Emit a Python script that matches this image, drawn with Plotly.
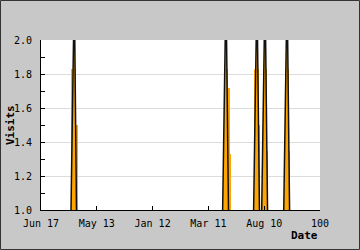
import plotly.graph_objects as go

# x positions are in "date index" units (0..100), ticks labelled as in the reference
tick_vals = [0, 20, 40, 60, 80, 100]
tick_text = ["Jun 17", "May 13", "Jan 12", "Mar 11", "Aug 10", "100"]

# spike outline (black line, orange filled)
line_x = [10.75, 11.93, 12.72, None,
          65.1, 66.3, 67.2, None,
          76.2, 77.4, 78.3, None,
          79.1, 80.3, 81.2, None,
          87.0, 88.2, 89.1]
line_y = [1.0, 2.3, 1.0, None,
          1.0, 2.3, 1.0, None,
          1.0, 2.3, 1.0, None,
          1.0, 2.3, 1.0, None,
          1.0, 2.3, 1.0]

# orange visit bars next to the spikes
bar_x = [11.7, 12.81, 66.3, 67.38, 67.92, 77.3, 78.14, 80.2, 80.64, 81.2, 88.1, 88.4, 88.9]
bar_y = [1.83, 1.5, 1.83, 1.72, 1.33, 1.83, 1.5, 1.83, 1.67, 1.35, 1.83, 1.67, 1.35]
bar_w = [1.6, 0.55, 1.6, 0.5, 0.4, 1.6, 0.45, 1.6, 0.55, 0.4, 1.6, 0.5, 0.4]

fig = go.Figure()
fig.add_trace(go.Bar(x=bar_x, y=bar_y, width=bar_w,
                     marker=dict(color="#ffa500", line=dict(width=0)),
                     hoverinfo="skip"))
fig.add_trace(go.Scatter(x=line_x, y=line_y, mode="lines",
                         line=dict(color="#111111", width=1.5),
                         fill="toself", fillcolor="#ffa500",
                         hoverinfo="skip"))

W, H = 360, 250
ml, mr, mt, mb = 41, 40, 40, 40
pw, ph = W - ml - mr, H - mt - mb

font = dict(family="DejaVu Sans Mono", size=10, color="#000000")

fig.update_layout(
    width=W, height=H,
    margin=dict(l=ml, r=mr, t=mt, b=mb, pad=0),
    paper_bgcolor="#c8c8c8",
    plot_bgcolor="#ffffff",
    showlegend=False,
    bargap=0,
    font=font,
    xaxis=dict(range=[0, 100], tickmode="array", tickvals=tick_vals, ticktext=tick_text,
               ticks="inside", ticklen=4, tickcolor="#000000", tickwidth=1,
               showline=True, linecolor="#000000", linewidth=1,
               showgrid=False, zeroline=False, ticklabelstandoff=4,
               tickfont=font),
    yaxis=dict(range=[1.0, 2.0], tickmode="linear", tick0=1.0, dtick=0.2,
               tickformat=".1f",
               ticks="inside", ticklen=4, tickcolor="#000000", tickwidth=1,
               minor=dict(dtick=0.1, ticks="inside", ticklen=4, tickcolor="#000000", showgrid=False),
               showline=True, linecolor="#000000", linewidth=1,
               showgrid=True, gridcolor="#dcdcdc", gridwidth=1,
               zeroline=False, ticklabelstandoff=6, tickfont=font),
    annotations=[
        dict(text="<b>Date</b>", xref="paper", yref="paper", x=1.0, y=-(26 / ph),
             xanchor="right", yanchor="middle", showarrow=False,
             font=dict(family="DejaVu Sans Mono", size=11, color="#000000")),
        dict(text="<b>Visits</b>", xref="paper", yref="paper", x=-(31 / pw), y=0.5,
             xanchor="center", yanchor="middle", textangle=-90, showarrow=False,
             font=dict(family="DejaVu Sans Mono", size=11, color="#000000")),
    ],
    shapes=[
        dict(type="rect", xref="paper", yref="paper",
             x0=-(ml - 0.5) / pw, x1=1 + (mr - 0.5) / pw,
             y0=-(mb - 0.5) / ph, y1=1 + (mt - 0.5) / ph,
             line=dict(color="#333333", width=1), fillcolor="rgba(0,0,0,0)", layer="below"),
    ],
)

fig.write_html("out.html")
